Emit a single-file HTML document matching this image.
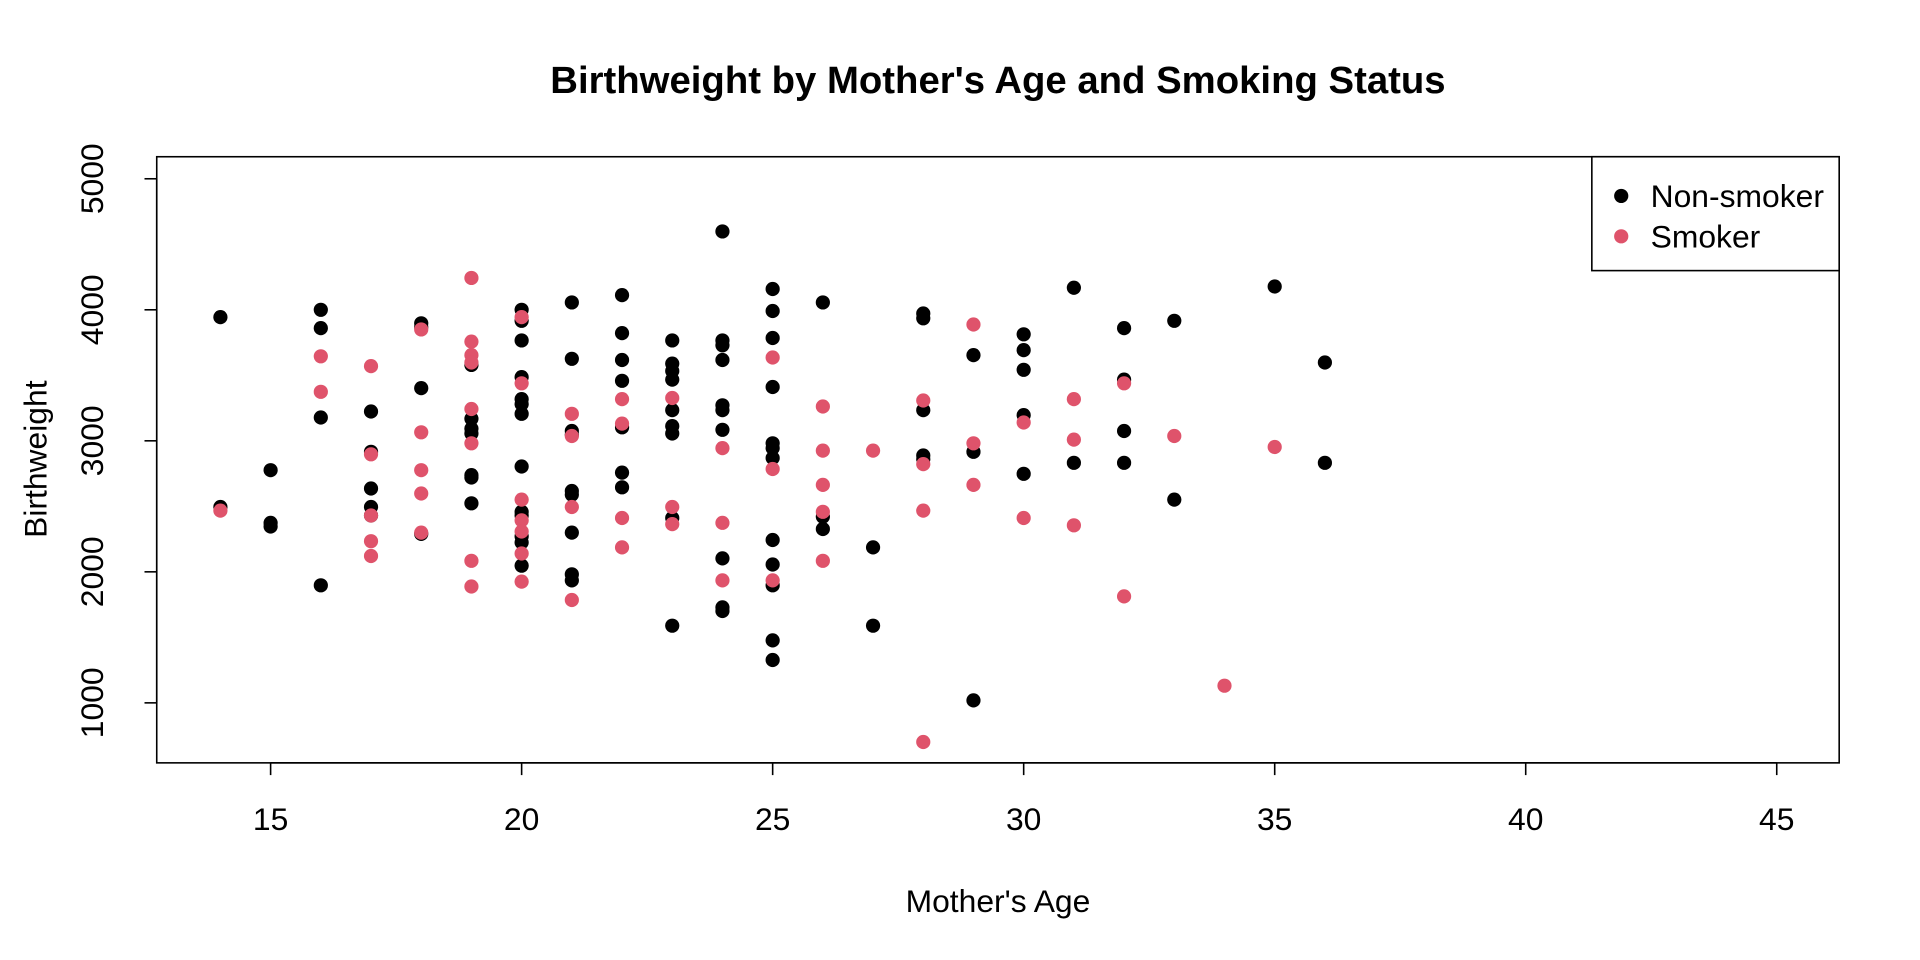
<!DOCTYPE html>
<html><head><meta charset="utf-8"><style>
html,body{margin:0;padding:0;background:#fff;}
svg{display:block;font-family:"Liberation Sans",Arial,sans-serif;}
</style></head><body>
<svg id="chart" width="1920" height="960" viewBox="0 0 1568 784" xmlns="http://www.w3.org/2000/svg">
<rect width="1568" height="784" fill="#fff"/>
<text x="815" y="76" text-anchor="middle" font-size="31.3" font-weight="bold">Birthweight by Mother's Age and Smoking Status</text>
<rect x="128" y="128" width="1374" height="495" fill="none" stroke="#000" stroke-width="1.3"/>
<g id="xaxis"></g>
<g id="yaxis"></g>
<text x="815" y="745" text-anchor="middle" font-size="26">Mother's Age</text>
<text x="0" y="0" transform="translate(38,375) rotate(-90)" text-anchor="middle" font-size="26">Birthweight</text>
<g id="points"></g>
<g>
<rect x="1300" y="128" width="202" height="93" fill="#fff" stroke="#000" stroke-width="1.3"/>
<circle cx="1324" cy="160" r="5.8" fill="#000"/>
<text x="1348" y="169" font-size="26">Non-smoker</text>
<circle cx="1324" cy="193" r="5.8" fill="#DF536B"/>
<text x="1348" y="202" font-size="26">Smoker</text>
</g>
</svg>
<script>
const xTicks=[15,20,25,30,35,40,45];
const yTicks=[1000,2000,3000,4000,5000];
const nonAge=[14,14,15,15,15,16,16,16,16,17,17,17,17,17,18,18,18,18,19,19,19,19,19,19,19,20,20,20,20,20,20,20,20,20,20,20,20,20,21,21,21,21,21,21,21,21,21,22,22,22,22,22,22,22,23,23,23,23,23,23,23,23,23,24,24,24,24,24,24,24,24,24,24,25,25,25,25,25,25,25,25,25,25,25,25,26,26,26,27,27,28,28,28,28,28,29,29,29,30,30,30,30,30,31,31,32,32,32,32,33,33,35,36,36];
const nonWt=[3944,2495,2776,2374,2346,4000,3860,3178,1897,3224,2916,2636,2495,2430,3897,3869,3402,2290,3579,3168,3093,3056,2738,2720,2523,4000,3916,3766,3486,3318,3280,3206,2804,2458,2430,2271,2224,2047,4056,3626,3075,3047,2617,2589,2299,1981,1935,4112,3822,3617,3458,3103,2757,2645,3766,3589,3533,3467,3234,3112,3056,2411,1589,4598,3766,3729,3617,3271,3234,3084,2103,1729,1701,4159,3991,3785,3411,2981,2944,2869,2243,2056,1897,1477,1327,4056,2421,2327,2187,1589,3972,3935,3234,2888,2860,3654,2916,1019,3813,3692,3542,3196,2748,4168,2832,3860,3467,3075,2832,3916,2551,4178,3598,2832];
const smkAge=[14,16,16,17,17,17,17,17,18,18,18,18,18,19,19,19,19,19,19,19,19,20,20,20,20,20,20,20,21,21,21,21,22,22,22,22,23,23,23,24,24,24,25,25,25,26,26,26,26,26,27,28,28,28,28,29,29,29,30,30,31,31,31,32,32,33,34,35];
const smkWt=[2467,3645,3374,3570,2897,2430,2234,2121,3850,3065,2776,2598,2299,4243,3757,3654,3598,3243,2981,2084,1888,3944,3439,2551,2393,2308,2140,1925,3206,3037,2495,1785,3318,3131,2411,2187,3327,2495,2364,2944,2374,1935,3636,2785,1935,3262,2925,2664,2458,2084,2925,3308,2822,2467,701,3888,2981,2664,3140,2411,3318,3009,2355,3439,1813,3037,1131,2953];
const NS='http://www.w3.org/2000/svg';
function xs(v){return 221+(v-15)*41;}
function ys(v){return 360-(v-3000)*0.107;}
function mk(tag,attrs,parent){const e=document.createElementNS(NS,tag);for(const k in attrs)e.setAttribute(k,attrs[k]);parent.appendChild(e);return e;}
const xa=document.getElementById('xaxis'),ya=document.getElementById('yaxis'),pts=document.getElementById('points');
mk('line',{x1:xs(15),x2:xs(45),y1:623,y2:623,stroke:'#000','stroke-width':1.3},xa);
xTicks.forEach(t=>{
 const l=mk('line',{x1:xs(t),x2:xs(t),y1:623,y2:633,stroke:'#000','stroke-width':1.3},xa);
 
 
 const tx=mk('text',{x:xs(t),y:678,'text-anchor':'middle','font-size':26},xa);tx.textContent=t;
 
 
});
mk('line',{x1:128,x2:128,y1:ys(1000),y2:ys(5000),stroke:'#000','stroke-width':1.3},ya);
yTicks.forEach(t=>{
 const l=mk('line',{x1:118,x2:128,y1:ys(t),y2:ys(t),stroke:'#000','stroke-width':1.3},ya);
 
 
 const tx=mk('text',{x:0,y:0,transform:`translate(84,${ys(t)}) rotate(-90)`,'text-anchor':'middle','font-size':26},ya);tx.textContent=t;
 
 
});
nonAge.forEach((a,i)=>{
 const c=mk('circle',{cx:xs(a),cy:ys(nonWt[i]),r:5.8,fill:'#000'},pts);
 
 
});
smkAge.forEach((a,i)=>{
 const c=mk('circle',{cx:xs(a),cy:ys(smkWt[i]),r:5.8,fill:'#DF536B'},pts);
 
 
});
</script>
</body></html>
